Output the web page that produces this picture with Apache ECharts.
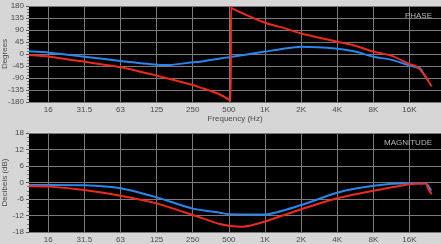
<!DOCTYPE html>
<html><head><meta charset="utf-8">
<script src="https://cdn.jsdelivr.net/npm/echarts@6/dist/echarts.min.js"></script>
<style>html,body{margin:0;padding:0;background:#d6d6d6;}#c{width:441px;height:244px;}</style>
</head><body><div id="c"></div>
<script>
// Frequency ticks (Hz) and their labels
const freqTicks = [15.625, 31.25, 62.5, 125, 250, 500, 1000, 2000, 4000, 8000, 16000];
const freqLabels = ['16', '31.5', '63', '125', '250', '500', '1K', '2K', '4K', '8K', '16K'];
const phaseTicks = [-180, -135, -90, -45, 0, 45, 90, 135, 180];
const magTicks = [-18, -12, -6, 0, 6, 12, 18];

// Phase (degrees)
const phaseBlueFreq = [10.8, 16, 31.25, 62.5, 125, 161, 250, 287, 421, 500, 1000, 1470, 2000, 4000, 5630, 8000, 11450, 16000, 19600, 21000, 22900];
const phaseBlue =     [10, 5, -10, -26, -40, -41, -31, -29, -17, -12, 9, 21, 27, 20, 9, -10, -22, -43, -54, -75, -100];
const phaseRedFreq = [10.8, 16, 31.25, 62.5, 125, 250, 287, 421, 518, 521, 530, 1000, 1470, 2000, 4000, 5630, 8000, 11450, 16000, 18000, 20800, 24500];
const phaseRed =     [-4, -10, -29, -50, -81, -116, -125, -152, -175, 177, 171, 117, 96, 77, 46, 31, 9, -7, -38, -45, -72, -122];

// Magnitude (dB)
const magBlueFreq = [10.8, 16, 31.25, 62.5, 125, 250, 421, 500, 1000, 2000, 4000, 8000, 16000, 21800, 23000, 24300];
const magBlue =     [-0.9, -0.9, -1.0, -2.1, -5.4, -9.5, -11, -11.5, -11.6, -8.2, -3.7, -1.2, -0.3, -0.3, -1.2, -3.0];
const magRedFreq = [10.8, 16, 31.25, 62.5, 125, 250, 421, 500, 650, 1000, 2000, 4000, 8000, 16000, 21800, 23000, 24500];
const magRed =     [-1.4, -1.5, -2.7, -4.8, -7.6, -11.8, -15.1, -15.7, -16.1, -14.2, -9.7, -5.7, -3.0, -0.6, -0.4, -2.5, -4.2];

const BLUE = '#2a86ec', RED = '#ee2a1c';
const zip = (xs, ys) => xs.map((x, i) => [x, ys[i]]);
const fLabel = v => {
  let best = 0, bd = Infinity;
  freqTicks.forEach((t, i) => { const d = Math.abs(Math.log(t) - Math.log(v)); if (d < bd) { bd = d; best = i; } });
  return freqLabels[best];
};
const FONT = 'Arial, Liberation Sans, sans-serif';
const labelStyle = { color: '#4a4a4a', fontSize: 8, fontFamily: FONT };
const gridLine = { show: true, lineStyle: { color: '#7a7a7a', width: 1 } };

function xAxis(gridIndex, name) {
  return {
    type: 'log', logBase: 2, gridIndex, min: 10.8, max: 29300,
    name, nameLocation: 'middle', nameGap: 12,
    nameTextStyle: { color: '#4a4a4a', fontSize: 8, fontFamily: FONT },
    axisLine: { show: false },
    axisTick: { show: false, customValues: freqTicks },
    axisLabel: Object.assign({ customValues: freqTicks, margin: 4, formatter: v => fLabel(v) }, labelStyle),
    splitLine: gridLine, minorTick: { show: false }, minorSplitLine: { show: false }
  };
}
function yAxis(gridIndex, min, max, interval, name, gap) {
  return {
    type: 'value', gridIndex, min, max, interval,
    name, nameLocation: 'middle', nameGap: gap, nameRotate: 90, nameMoveOverlap: false,
    nameTextStyle: { color: '#4a4a4a', fontSize: 8, fontFamily: FONT },
    axisLine: { show: false },
    axisTick: { show: true, length: 3, lineStyle: { color: '#555' } },
    minorTick: { show: true, splitNumber: 4, length: 2, lineStyle: { color: '#777' } },
    axisLabel: Object.assign({ margin: 5 }, labelStyle),
    splitLine: gridLine
  };
}
const line = (xi, data, color) => ({
  type: 'line', xAxisIndex: xi, yAxisIndex: xi, data, showSymbol: false, symbol: 'none',
  smooth: 0.2, lineStyle: { color, width: 2 }, animation: false
});

const chart = echarts.init(document.getElementById('c'));
chart.setOption({
  animation: false,
  backgroundColor: '#d6d6d6',
  grid: [
    { left: 29, top: 6, right: 0, height: 96, show: true, backgroundColor: '#000', borderWidth: 0, outerBoundsMode: 'none', containLabel: false },
    { left: 29, top: 133, right: 0, height: 99, show: true, backgroundColor: '#000', borderWidth: 0, outerBoundsMode: 'none', containLabel: false }
  ],
  title: [
    { text: 'PHASE', right: 4, top: 7, textStyle: { color: '#b8b8b8', fontSize: 8, fontWeight: 'normal', fontFamily: FONT } },
    { text: 'MAGNITUDE', right: 4, top: 134, textStyle: { color: '#b8b8b8', fontSize: 8, fontWeight: 'normal', fontFamily: FONT } }
  ],
  xAxis: [xAxis(0, 'Frequency (Hz)'), xAxis(1, '')],
  yAxis: [yAxis(0, -180, 180, 45, 'Degrees', 20), yAxis(1, -18, 18, 6, 'Decibels (dB)', 20)],
  series: [
    line(0, zip(phaseBlueFreq, phaseBlue), BLUE),
    line(0, zip(phaseRedFreq, phaseRed), RED),
    line(1, zip(magBlueFreq, magBlue), BLUE),
    line(1, zip(magRedFreq, magRed), RED)
  ]
});
</script></body></html>
